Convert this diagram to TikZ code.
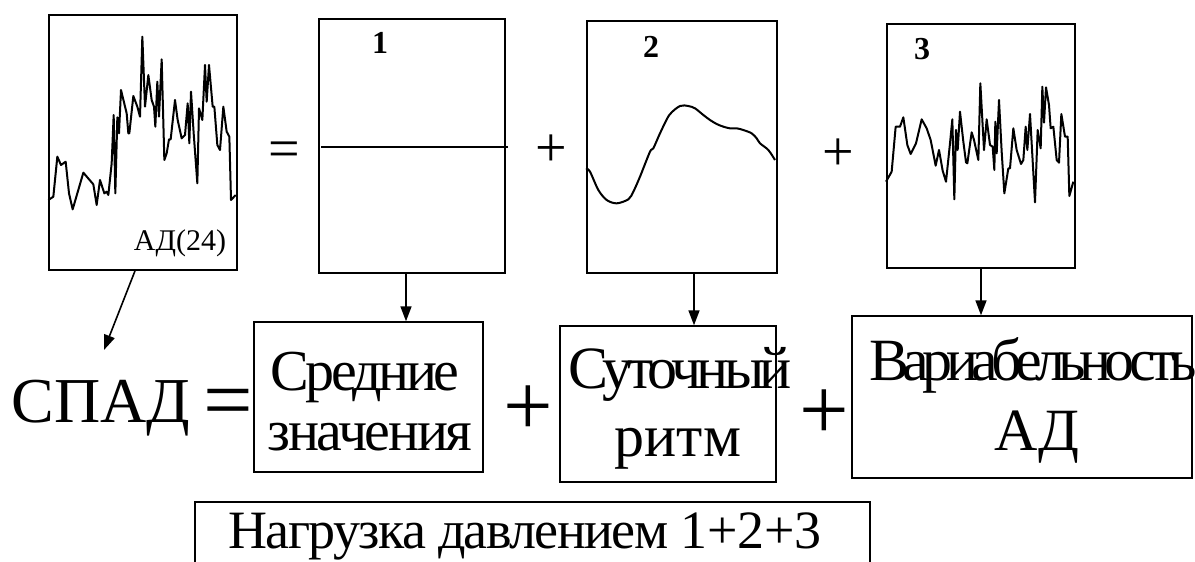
\documentclass[tikz,border=0pt]{standalone}
\usepackage{fontspec}
\setmainfont{Liberation Serif}
\usetikzlibrary{calc,arrows.meta}
\begin{document}
\begin{tikzpicture}[x=0.5pt,y=-0.5pt,
  panel/.style={draw, line width=0.9pt, inner sep=0pt},
  tbox/.style={draw, line width=0.7pt, inner sep=0pt},
  sig/.style={line width=1pt, line join=round},
  arr/.style={line width=0.8pt, -{Triangle[length=7.5pt,width=5.5pt]}},
  numlab/.style={anchor=base, font=\fontsize{16}{16}\selectfont\bfseries},
  op/.style={inner sep=0pt, font=\fontsize{28}{28}\selectfont},
  bigop/.style={inner sep=0pt, font=\fontsize{44}{44}\selectfont},
  word/.style={anchor=base, inner sep=0pt, font=\fontsize{30}{30}\selectfont},
]
\useasboundingbox (0,0) rectangle (1195,562);

% top panels
\node[panel, minimum width=94pt, minimum height=127.5pt] (a) at (143,142.5) {};
\node[panel, minimum width=93pt, minimum height=127pt] (b1) at (412,146) {};
\node[panel, minimum width=95pt, minimum height=126pt] (b2) at (682,147) {};
\node[panel, minimum width=94pt, minimum height=122pt] (b3) at (981,146) {};

\node[anchor=base, inner sep=0pt, font=\fontsize{15}{15}\selectfont] (lab) at (180,250) {АД(24)};
\node[numlab] (n1) at (380,54) {1};
\node[numlab] (n2) at (651,57) {2};
\node[numlab] (n3) at (922,60) {3};

\node[op] (eqtop) at (284,155) {=};
\node[op] (pl1) at (551,151) {+};
\node[op] (pl2) at (838,155) {+};

% signals
\begin{scope}[x=0.16667pt,y=-0.16667pt]
\draw[sig] (145,600)--(160,590)--(172,470)--(183,495)--(197,485)--(207,580)--(218,628)--(250,518)--(280,553)--(290,615)--(300,540)--(313,580)--(320,575)--(325,585)--(335,490)--(341,345)--(346,580)--(352,352)--(357,400)--(363,270)--(380,340)--(385,400)--(388,400)--(400,288)--(412,320)--(420,350)--(427,110)--(435,320)--(445,225)--(455,300)--(462,320)--(466,380)--(472,245)--(477,350)--(485,178)--(493,480)--(500,460)--(507,418)--(512,418)--(525,300)--(533,360)--(545,415)--(555,405)--(563,310)--(568,430)--(573,275)--(581,400)--(592,550)--(597,325)--(607,360)--(615,195)--(620,305)--(627,195)--(638,320)--(643,320)--(652,435)--(660,450)--(670,320)--(680,395)--(688,410)--(693,600)--(707,585);
\end{scope}

\draw[line width=0.6pt] ($(b1.west)+(3,1)$) -- ($(b1.east)+(2,1)$);

\begin{scope}[shift={(570,0)},x=0.16667pt,y=-0.16667pt]
\draw[sig] plot[smooth, tension=0.5] coordinates {(48,505) (60,515) (85,570) (110,600) (140,610) (175,598) (190,575) (210,530) (240,455) (250,445) (270,400) (298,345) (330,318) (355,318) (375,325) (400,345) (420,360) (440,372) (460,380) (480,385) (500,385) (520,390) (545,400) (560,415) (570,430) (595,450) (615,480)};
\end{scope}

\begin{scope}[shift={(860,0)},x=0.16667pt,y=-0.16667pt]
\draw[sig] (78,545)--(95,515)--(107,380)--(120,380)--(130,352)--(142,435)--(152,462)--(168,430)--(185,358)--(200,385)--(212,420)--(227,497)--(237,450)--(248,512)--(258,545)--(270,430)--(277,358)--(283,598)--(288,390)--(293,450)--(300,335)--(310,425)--(318,487)--(322,490)--(335,397)--(342,420)--(355,480)--(361,250)--(372,450)--(380,358)--(390,435)--(398,440)--(403,510)--(406,365)--(410,460)--(417,300)--(425,455)--(433,580)--(445,505)--(450,505)--(460,385)--(470,450)--(483,492)--(490,480)--(497,380)--(502,450)--(510,342)--(525,607)--(533,390)--(542,445)--(547,260)--(552,368)--(558,262)--(567,315)--(572,385)--(580,380)--(590,480)--(597,488)--(604,342)--(615,410)--(623,410)--(628,588)--(640,545);
\end{scope}

% bottom row
\node[anchor=base west, inner sep=0pt, font=\fontsize{32}{32}\selectfont] (spad) at (11,422) {СПАД};
\node[bigop] (eqbot) at (228,409) {=};

\node[tbox, minimum width=114.5pt, minimum height=75pt] (bS) at (368.5,397) {};
\node[tbox, minimum width=108pt, minimum height=78pt] (bR) at (668,404) {};
\node[tbox, minimum width=170pt, minimum height=81pt] (bV) at (1022,397) {};

\node[word, font=\fontsize{29}{29}\selectfont] (s1) at (365,390) {\addfontfeature{LetterSpace=-6}Средние};
\node[word, font=\fontsize{29}{29}\selectfont] (s2) at (370,450) {\addfontfeature{LetterSpace=-4}значения};
\node[word] (r1) at (680,388) {\addfontfeature{LetterSpace=-8}Суточный};
\node[word] (r2) at (678,456) {ритм};
\node[word] (v1) at (1033,380) {\addfontfeature{LetterSpace=-11}Вариабельность};
\node[word] (v2) at (1037,450) {АД};

\node[bigop] (plb1) at (528,411) {+};
\node[bigop] (plb2) at (824,415) {+};

% load box (cut by the lower edge)
\node[anchor=base west, inner sep=0pt, font=\fontsize{27}{27}\selectfont] (load) at (228,548) {\addfontfeature{LetterSpace=-3}Нагрузка давлением \addfontfeature{LetterSpace=0}1+2+3};
\coordinate (lt) at (195,502);
\coordinate (rt) at (870,502);
\draw[line width=0.7pt] (lt |- 0,562) -- (lt) -- (rt) -- (rt |- 0,562);

% arrows
\coordinate (tipA) at (104,350);
\coordinate (x1) at (406,0);
\coordinate (x2) at (694,0);
\coordinate (x3) at (981,0);
\draw[arr] ($(a.south)+(-8,0)$) -- (tipA);
\draw[arr] (b1.south -| x1) -- (bS.north -| x1);
\draw[arr] (b2.south -| x2) -- (bR.north -| x2);
\draw[arr] (b3.south -| x3) -- (bV.north -| x3);
\end{tikzpicture}
\end{document}
